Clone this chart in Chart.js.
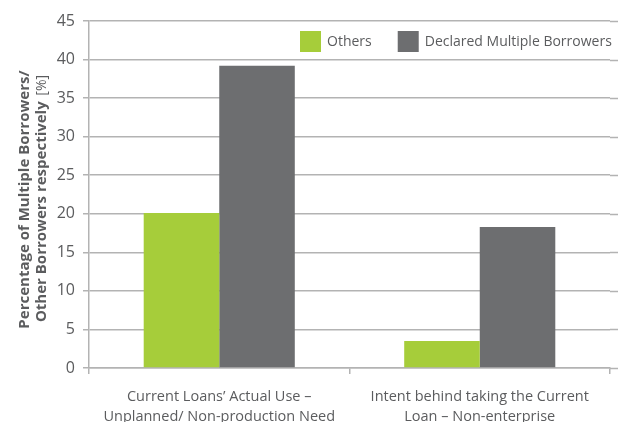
<!DOCTYPE html>
<html>
<head>
<meta charset="utf-8">
<script src="https://cdn.jsdelivr.net/npm/chart.js@4.4.0/dist/chart.umd.min.js"></script>
<style>
  html, body { margin: 0; padding: 0; background: #fff; overflow: hidden; }
  #wrap { width: 618px; height: 422px; position: relative; }
</style>
</head>
<body>
<div id="wrap"><canvas id="chart"></canvas></div>
<script>
const categories = [
  ['Current Loans\u2019 Actual Use \u2013', 'Unplanned/ Non-production Need'],
  ['Intent behind taking the Current', 'Loan \u2013 Non-enterprise']
];
const seriesNames = ['Others', 'Declared Multiple Borrowers'];
const othersValues = [20.1, 3.5];
const declaredValues = [39.2, 18.3];
const yTicks = [0, 5, 10, 15, 20, 25, 30, 35, 40, 45];

const GREEN = '#a6cd3a';
const GREY = '#6d6e70';
const TEXT = '#5b5c5e';
const GRID = '#b3b3b3';
const FONT = '"Open Sans", sans-serif';

// y axis title, two bold lines with a lighter "[%]" unit
const yTitlePlugin = {
  id: 'yTitle',
  afterDraw(chart) {
    const ctx = chart.ctx;
    const area = chart.chartArea;
    const cy = (area.top + area.bottom) / 2 + 5;
    ctx.save();
    ctx.fillStyle = TEXT;
    ctx.textBaseline = 'middle';
    ctx.translate(25, cy);
    ctx.rotate(-Math.PI / 2);
    ctx.font = 'bold 15px ' + FONT;
    ctx.textAlign = 'center';
    ctx.fillText('Percentage of Multiple Borrowers/', 0, 0);
    const main = 'Other Borrowers respectively';
    const unit = ' [%]';
    const w1 = ctx.measureText(main).width;
    ctx.font = '14px ' + FONT;
    const w2 = ctx.measureText(unit).width;
    const start = -(w1 + w2) / 2;
    ctx.textAlign = 'left';
    ctx.font = 'bold 15px ' + FONT;
    ctx.fillText(main, start, 17);
    ctx.font = '14px ' + FONT;
    ctx.fillText(unit, start + w1 + 2, 17);
    ctx.restore();
  }
};

// grid lines carry on past the plot to the right edge
const gridExtendPlugin = {
  id: 'gridExtend',
  beforeDatasetsDraw(chart) {
    const ctx = chart.ctx;
    const y = chart.scales.y;
    ctx.save();
    ctx.strokeStyle = GRID;
    ctx.lineWidth = 1.5;
    yTicks.forEach(v => {
      const py = Math.round(y.getPixelForValue(v)) + 0.5;
      ctx.beginPath();
      ctx.moveTo(chart.chartArea.right, py);
      ctx.lineTo(chart.width, py);
      ctx.stroke();
    });
    ctx.restore();
  }
};

// legend drawn inside the plot, top right
const legendPlugin = {
  id: 'insideLegend',
  afterDraw(chart) {
    const ctx = chart.ctx;
    const top = chart.chartArea.top + 10;
    let x = 300;
    ctx.save();
    ctx.font = '14px ' + FONT;
    ctx.textBaseline = 'middle';
    ctx.textAlign = 'left';
    chart.data.datasets.forEach(ds => {
      ctx.fillStyle = ds.backgroundColor;
      ctx.fillRect(x, top, 21, 21);
      ctx.fillStyle = TEXT;
      ctx.fillText(ds.label, x + 27, top + 11);
      x += 27 + ctx.measureText(ds.label).width + 26;
    });
    ctx.restore();
  }
};

new Chart(document.getElementById('chart'), {
  type: 'bar',
  data: {
    labels: categories,
    datasets: [
      { label: seriesNames[0], data: othersValues, backgroundColor: GREEN },
      { label: seriesNames[1], data: declaredValues, backgroundColor: GREY }
    ]
  },
  options: {
    responsive: true,
    maintainAspectRatio: false,
    animation: false,
    layout: { padding: { top: 21, right: 8, left: 0, bottom: 0 } },
    datasets: {
      bar: { categoryPercentage: 0.58, barPercentage: 1.0 }
    },
    plugins: {
      legend: { display: false },
      tooltip: { enabled: false }
    },
    scales: {
      x: {
        grid: {
          offset: true,
          drawOnChartArea: false,
          color: GRID,
          lineWidth: 1.5,
          tickLength: 6
        },
        border: { color: GRID, width: 1.5 },
        ticks: {
          color: TEXT,
          font: { family: FONT, size: 14.5, lineHeight: 1.38 },
          padding: 13,
          maxRotation: 0
        },
        afterFit(scale) { scale.height = 54; }
      },
      y: {
        min: 0,
        max: 45,
        afterBuildTicks(scale) { scale.ticks = yTicks.map(v => ({ value: v })); },
        grid: { color: GRID, lineWidth: 1.5, tickLength: 6 },
        border: { color: GRID, width: 1.5 },
        ticks: {
          color: TEXT,
          font: { family: FONT, size: 16 },
          padding: 8
        },
        afterFit(scale) { scale.width = 89; }
      }
    }
  },
  plugins: [gridExtendPlugin, yTitlePlugin, legendPlugin]
});
</script>
</body>
</html>
